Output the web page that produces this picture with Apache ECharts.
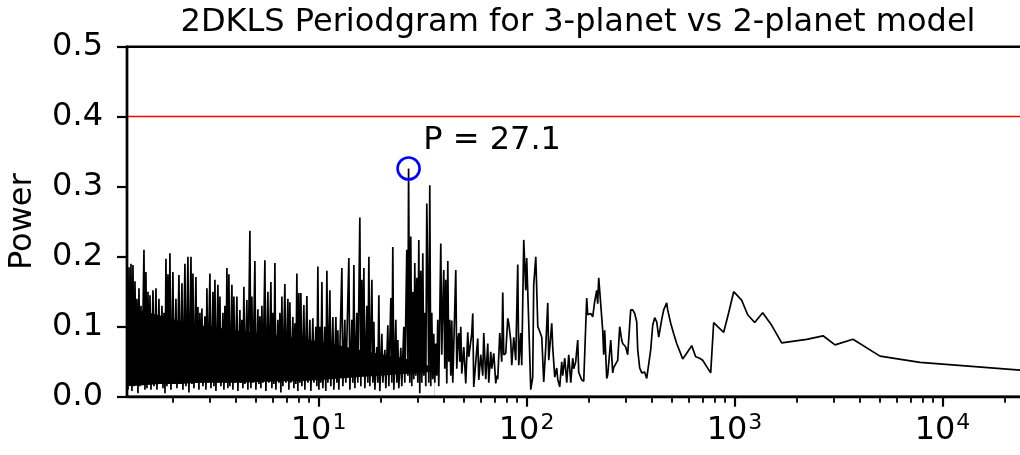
<!DOCTYPE html>
<html>
<head>
<meta charset="utf-8">
<script src="https://cdn.jsdelivr.net/npm/echarts@6/dist/echarts.min.js"></script>
<style>
html,body{margin:0;padding:0;background:#fff;}
#chart{width:1020px;height:455px;}
</style>
</head>
<body>
<div id="chart"></div>
<script>
// Periods (days) and 2DKLS power
const period = [
1.200,1.213,1.227,1.240,1.254,1.268,1.282,1.297,1.311,1.326,
1.340,1.355,1.370,1.385,1.401,1.416,1.448,1.464,1.480,1.497,
1.514,1.531,1.548,1.565,1.600,1.618,1.654,1.672,1.709,1.728,
1.767,1.787,1.807,1.827,1.847,1.867,1.888,1.909,1.930,1.952,
1.995,2.018,2.063,2.086,2.133,2.157,2.205,2.229,2.279,2.305,
2.356,2.382,2.436,2.463,2.490,2.518,2.574,2.602,2.631,2.661,
2.690,2.720,2.750,2.781,2.843,2.875,2.907,2.939,3.005,3.039,
3.107,3.141,3.176,3.212,3.283,3.320,3.357,3.394,3.470,3.509,
3.548,3.587,3.627,3.667,3.708,3.750,3.833,3.876,3.919,3.963,
4.051,4.096,4.188,4.234,4.281,4.329,4.377,4.425,4.525,4.575,
4.678,4.730,4.782,4.835,4.944,4.999,5.111,5.168,5.225,5.284,
5.342,5.402,5.523,5.584,5.709,5.772,5.902,5.967,6.034,6.101,
6.169,6.237,6.377,6.448,6.520,6.592,6.666,6.740,6.890,6.967,
7.123,7.203,7.283,7.364,7.528,7.612,7.697,7.782,7.869,7.956,
8.045,8.134,8.225,8.316,8.502,8.597,8.790,8.888,9.087,9.188,
9.393,9.498,9.710,9.818,9.927,10.04,10.15,10.26,10.38,10.49,
10.72,10.84,10.97,11.09,11.34,11.46,11.72,11.85,12.12,12.25,
12.39,12.52,12.95,13.09,13.38,13.53,13.99,14.15,14.46,14.62,
14.79,14.95,15.28,15.45,15.80,15.98,16.15,16.33,16.52,16.70,
17.07,17.26,17.46,17.65,18.05,18.25,18.45,18.66,19.07,19.28,
19.50,19.71,20.16,20.38,20.84,21.07,21.54,21.78,22.27,22.51,
22.76,23.02,23.53,23.79,24.06,24.32,24.87,25.14,25.71,25.99,
26.57,26.87,27.10,27.47,27.77,28.08,28.40,28.71,29.03,29.35,
29.68,30.01,30.35,30.68,31.03,31.37,31.72,32.07,32.43,32.79,
33.15,33.52,33.89,34.27,34.65,35.04,35.43,35.82,36.22,36.62,
37.03,37.44,37.86,38.71,39.14,39.57,40.01,40.46,40.91,41.37,
41.83,42.29,42.76,43.24,43.72,44.21,45.70,46.21,46.72,47.24,
47.77,48.30,48.84,49.93,51.04,52.18,52.76,54.54,55.15,55.76,
57.65,58.29,58.94,60.25,61.60,62.29,63.68,65.11,65.84,67.31,
68.06,69.58,71.14,71.93,72.73,74.36,76.02,76.87,77.72,79.46,
81.24,82.15,83.98,84.92,86.82,88.76,90.75,91.76,93.81,94.85,
96.98,99.15,100.2,102.5,104.8,107.1,108.3,110.8,113.3,114.5,
118.4,121.0,123.7,126.5,127.9,132.2,133.7,136.7,139.7,141.3,
144.4,147.7,149.3,152.7,156.1,159.6,163.2,166.8,168.7,172.4,
176.3,178.2,184.2,188.4,194.7,196.9,203.5,208.1,212.7,217.5,
219.9,222.4,227.3,232.4,235.0,237.6,243.0,245.7,254.0,259.7,
262.6,268.4,274.4,280.6,286.8,290.0,299.8,306.5,316.9,324.0,
331.2,338.7,342.5,350.1,358.0,362.0,370.1,378.3,395.4,404.3,
413.3,422.6,432.1,446.6,456.7,472.0,477.2,493.4,510.0,527.3,
539.1,563.5,589.0,622.5,650.7,680.1,703.1,734.9,768.2,794.1,
830.0,887.0,937.5,990.9,1082,1157,1250,1366,1509,1686,
2223,2665,3042,3712,5006,7795,24650
];
const power = [
0.170,0.010,0.185,0.020,0.190,0.008,0.188,0.015,0.165,0.020,
0.140,0.005,0.155,0.015,0.130,0.020,0.210,0.010,0.178,0.012,
0.150,0.020,0.145,0.010,0.152,0.015,0.155,0.010,0.140,0.020,
0.130,0.012,0.120,0.005,0.197,0.015,0.175,0.020,0.205,0.010,
0.178,0.018,0.140,0.012,0.174,0.020,0.162,0.010,0.190,0.015,
0.200,0.006,0.200,0.018,0.176,0.012,0.171,0.020,0.128,0.010,
0.120,0.020,0.126,0.015,0.115,0.010,0.155,0.020,0.176,0.012,
0.150,0.015,0.167,0.008,0.160,0.020,0.143,0.015,0.120,0.010,
0.130,0.020,0.184,0.012,0.175,0.015,0.160,0.010,0.143,0.020,
0.143,0.008,0.124,0.020,0.110,0.012,0.157,0.018,0.138,0.010,
0.237,0.012,0.143,0.020,0.194,0.010,0.125,0.018,0.115,0.012,
0.130,0.020,0.195,0.008,0.150,0.020,0.164,0.012,0.120,0.018,
0.191,0.010,0.110,0.020,0.120,0.006,0.143,0.015,0.161,0.020,
0.140,0.010,0.135,0.020,0.114,0.012,0.105,0.018,0.176,0.008,
0.148,0.020,0.148,0.015,0.131,0.010,0.144,0.020,0.110,0.008,
0.112,0.020,0.100,0.015,0.186,0.010,0.100,0.020,0.164,0.012,
0.100,0.008,0.180,0.020,0.152,0.015,0.114,0.010,0.114,0.020,
0.095,0.010,0.184,0.015,0.110,0.020,0.198,0.010,0.110,0.020,
0.188,0.012,0.120,0.020,0.256,0.015,0.167,0.050,0.184,0.012,
0.130,0.020,0.200,0.015,0.167,0.020,0.107,0.010,0.071,0.020,
0.145,0.008,0.090,0.020,0.067,0.012,0.102,0.015,0.141,0.020,
0.214,0.010,0.110,0.020,0.081,0.012,0.070,0.015,0.100,0.020,
0.210,0.030,0.326,0.020,0.229,0.015,0.150,0.025,0.191,0.030,
0.170,0.020,0.224,0.005,0.180,0.020,0.205,0.030,0.120,0.015,
0.276,0.170,0.020,0.302,0.015,0.120,0.025,0.090,0.020,0.076,
0.030,0.110,0.015,0.219,0.060,0.128,0.181,0.040,0.167,0.019,
0.194,0.050,0.110,0.030,0.109,0.020,0.181,0.040,0.080,0.091,
0.050,0.100,0.033,0.071,0.019,0.092,0.057,0.090,0.119,0.014,
0.067,0.083,0.024,0.060,0.030,0.091,0.025,0.076,0.020,0.064,
0.040,0.062,0.019,0.030,0.025,0.091,0.050,0.149,0.060,0.062,
0.112,0.105,0.080,0.045,0.085,0.052,0.189,0.045,0.091,0.045,
0.224,0.152,0.198,0.105,0.010,0.028,0.160,0.200,0.100,0.097,
0.085,0.021,0.070,0.134,0.052,0.105,0.070,0.028,0.041,0.025,
0.014,0.050,0.030,0.055,0.020,0.060,0.020,0.055,0.040,0.050,
0.081,0.035,0.024,0.022,0.141,0.117,0.119,0.114,0.136,0.152,
0.133,0.170,0.133,0.095,0.060,0.095,0.026,0.031,0.081,0.034,
0.042,0.040,0.052,0.100,0.081,0.076,0.071,0.060,0.124,0.124,
0.119,0.107,0.067,0.041,0.034,0.036,0.035,0.026,0.067,0.102,
0.113,0.107,0.085,0.110,0.124,0.134,0.124,0.105,0.090,0.076,
0.075,0.054,0.062,0.073,0.057,0.055,0.052,0.043,0.034,0.106,
0.100,0.092,0.120,0.150,0.138,0.117,0.106,0.120,0.102,0.077,
0.082,0.087,0.074,0.082,0.058,0.049,0.0375
];
// Envelope of the densely over-plotted short-period region (solid black core)
const bandPeriod = [1.200,1.385,1.728,2.157,2.690,3.357,4.188,5.225,6.520,8.134,10.15,12.66,15.80,19.71,24.59,30.68,36.00];
const bandLow    = [0.015,0.016,0.018,0.018,0.020,0.020,0.020,0.021,0.022,0.022,0.024,0.026,0.028,0.030,0.032,0.034,0.036];
const bandHigh   = [0.130,0.124,0.116,0.108,0.102,0.098,0.094,0.091,0.087,0.083,0.079,0.073,0.067,0.061,0.056,0.050,0.040];

const threshold = 0.4;
const peakPeriod = 27.1;
const peakPower = 0.326;
const annotPeriod = 31.7;
const annotPower = 0.366;
const annotText = 'P = 27.1';

const xMin = 1.2, xMax = 24650;
const xMajor = [10, 100, 1000, 10000];
const xMajorExp = ['1', '2', '3', '4'];
const xMinor = [2,3,4,5,6,7,8,9,20,30,40,50,60,70,80,90,200,300,400,500,600,700,800,900,
                2000,3000,4000,5000,6000,7000,8000,9000,20000];
const yMin = 0, yMax = 0.5, yStep = 0.1;

const FONT = 'DejaVu Sans';
const FS = 32;

const lineData = period.map((p, i) => [p, power[i]]);
const bandTop = bandPeriod.map((p, i) => [p, bandHigh[i]]);
const bandBottom = bandPeriod.map((p, i) => [p, bandLow[i]]);

const chart = echarts.init(document.getElementById('chart'), null, {renderer: 'canvas'});
chart.setOption({
  animation: false,
  backgroundColor: '#fff',
  title: {
    text: '2DKLS Periodgram for 3-planet vs 2-planet model',
    left: 573, top: 2, textAlign: 'center',
    textStyle: {fontFamily: FONT, fontSize: FS, fontWeight: 'normal', color: '#000', lineHeight: FS}
  },
  grid: {
    left: 127, top: 46.7, width: 897, height: 350, z: 10,
    containLabel: false, outerBoundsMode: 'none',
    show: true, borderColor: '#000', borderWidth: 2.4, backgroundColor: 'transparent'
  },
  xAxis: [{
    type: 'log', logBase: 10, min: xMin, max: xMax, position: 'bottom', z: 10,
    axisLine: {show: true, lineStyle: {color: '#000', width: 2.4}},
    axisTick: {show: true, inside: false, length: 10, lineStyle: {color: '#000', width: 2.2}, customValues: xMajor},
    axisLabel: {
      show: true, margin: 16, customValues: xMajor,
      formatter: function (v) {
        let best = 0;
        for (let i = 0; i < xMajor.length; i++) {
          if (Math.abs(Math.log10(v) - Math.log10(xMajor[i])) < Math.abs(Math.log10(v) - Math.log10(xMajor[best]))) best = i;
        }
        return '{b|10}{s|' + xMajorExp[best] + '}';
      },
      rich: {
        b: {fontFamily: FONT, fontSize: FS, color: '#000', lineHeight: FS, padding: [4, 0, 0, 0]},
        s: {fontFamily: FONT, fontSize: 22, color: '#000', lineHeight: 22, verticalAlign: 'top', padding: [0, 0, 0, 1]}
      }
    },
    splitLine: {show: false},
    minorTick: {show: false}
  }, {
    type: 'log', logBase: 10, min: xMin, max: xMax, position: 'bottom', gridIndex: 0, z: 10,
    axisLine: {show: false},
    axisTick: {show: true, inside: false, length: 6, lineStyle: {color: '#000', width: 1.8}, customValues: xMinor},
    axisLabel: {show: false},
    splitLine: {show: false}
  }],
  yAxis: {
    type: 'value', min: yMin, max: yMax, interval: yStep, z: 10,
    name: 'Power', nameLocation: 'middle', nameGap: 88, nameRotate: 90,
    nameTextStyle: {fontFamily: FONT, fontSize: FS, color: '#000'},
    axisLine: {show: true, lineStyle: {color: '#000', width: 2.4}},
    axisTick: {show: true, inside: false, length: 10, lineStyle: {color: '#000', width: 2.2}},
    axisLabel: {fontFamily: FONT, fontSize: FS, color: '#000', margin: 24, formatter: v => v.toFixed(1)},
    splitLine: {show: false}
  },
  series: [{
    // black core: filled from the upper envelope down to the axis
    type: 'line', name: 'coreTop', data: bandTop,
    symbol: 'none', lineStyle: {width: 0, opacity: 0},
    areaStyle: {color: '#000', opacity: 1, origin: 'start'}, silent: true, z: 1
  }, {
    // white fill below the lower envelope of the core
    type: 'line', name: 'coreBottom', data: bandBottom,
    symbol: 'none', lineStyle: {width: 0, opacity: 0},
    areaStyle: {color: '#fff', opacity: 1, origin: 'start'}, silent: true, z: 2
  }, {
    type: 'line', name: 'power', data: lineData, symbol: 'none', showSymbol: false,
    lineStyle: {color: '#000', width: 1.7}, z: 3,
    markLine: {
      silent: true, symbol: 'none', label: {show: false},
      lineStyle: {color: '#ff0000', width: 1.3, type: 'solid', opacity: 1},
      data: [{yAxis: threshold}]
    }
  }, {
    type: 'scatter', name: 'peak', data: [[peakPeriod, peakPower]],
    symbol: 'circle', symbolSize: 22,
    itemStyle: {color: 'rgba(0,0,0,0)', borderColor: '#0000ff', borderWidth: 2.6, opacity: 1}, z: 4
  }, {
    type: 'scatter', name: 'annotation', data: [[annotPeriod, annotPower]],
    symbolSize: 1, z: 5, itemStyle: {color: 'rgba(0,0,0,0)', opacity: 1},
    label: {show: true, position: 'right', distance: 0, align: 'left', verticalAlign: 'middle',
      formatter: annotText, fontFamily: FONT, fontSize: FS, color: '#000', opacity: 1}
  }]
});
</script>
</body>
</html>
